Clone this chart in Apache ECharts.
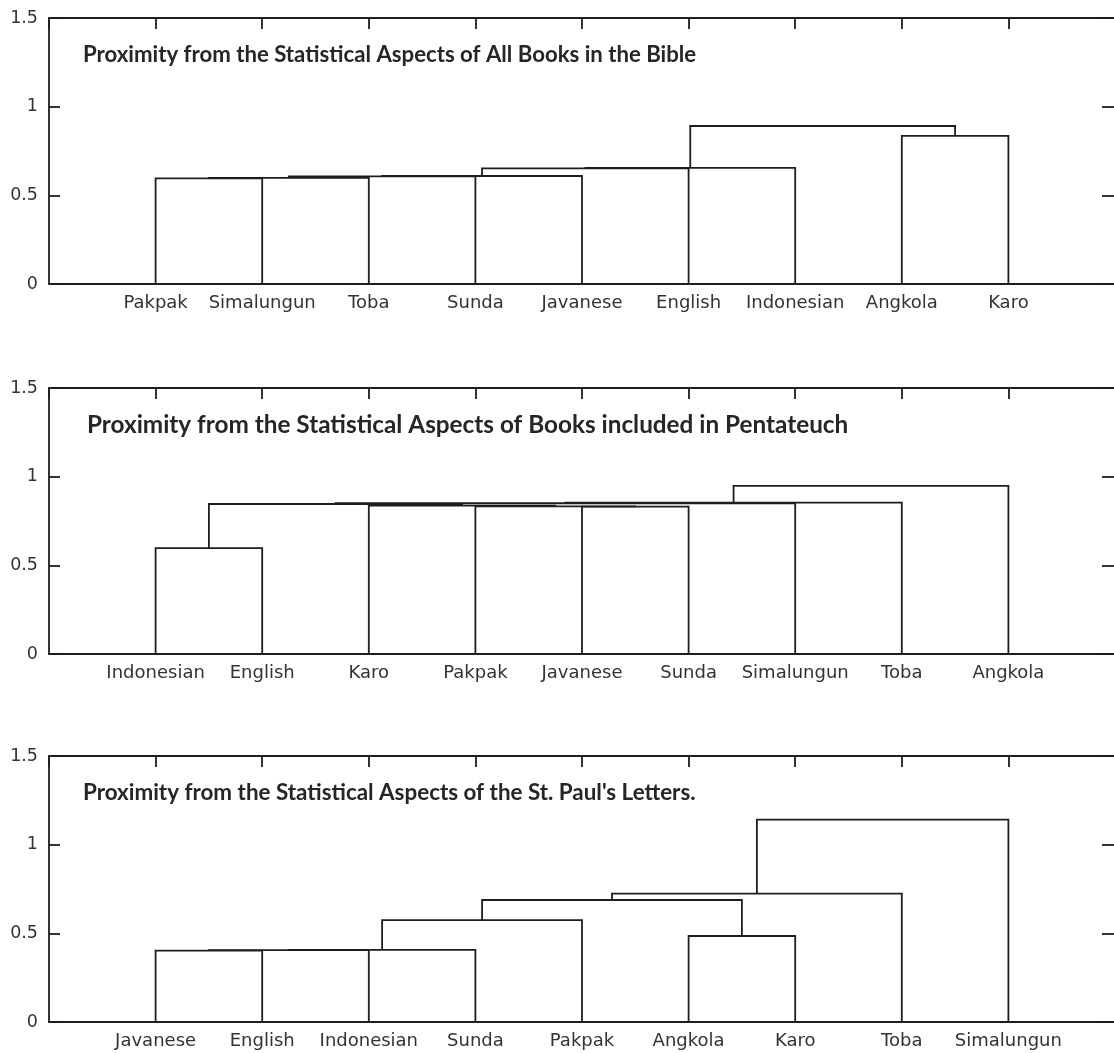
<!DOCTYPE html>
<html>
<head>
<meta charset="utf-8">
<script src="https://cdn.jsdelivr.net/npm/echarts@6/dist/echarts.min.js"></script>
<style>
  html, body { margin: 0; padding: 0; background: #fff; overflow: hidden; }
  #chart { width: 1114px; height: 1053px; }
</style>
</head>
<body>
<div id="chart"></div>
<script>
// ---------- DATA ----------
const titles = [
  "Proximity from the Statistical Aspects of All Books in the Bible",
  "Proximity from the Statistical Aspects of Books included in Pentateuch",
  "Proximity from the Statistical Aspects of the St. Paul's Letters."
];

// leaf order (tick labels) of each dendrogram
const leavesBible = ["Pakpak", "Simalungun", "Toba", "Sunda", "Javanese", "English", "Indonesian", "Angkola", "Karo"];
const leavesPentateuch = ["Indonesian", "English", "Karo", "Pakpak", "Javanese", "Sunda", "Simalungun", "Toba", "Angkola"];
const leavesPaul = ["Javanese", "English", "Indonesian", "Sunda", "Pakpak", "Angkola", "Karo", "Toba", "Simalungun"];

// merges: [child A, child B, linkage height]; "#k" = cluster formed by the k-th merge
const mergesBible = [
  ["Pakpak", "Simalungun", 0.596],
  ["#1", "Toba", 0.599],
  ["#2", "Sunda", 0.607],
  ["#3", "Javanese", 0.609],
  ["#4", "English", 0.652],
  ["#5", "Indonesian", 0.655],
  ["Angkola", "Karo", 0.835],
  ["#6", "#7", 0.891]
];
const mergesPentateuch = [
  ["Indonesian", "English", 0.597],
  ["Javanese", "Sunda", 0.831],
  ["Pakpak", "#2", 0.833],
  ["Karo", "#3", 0.837],
  ["#1", "#4", 0.846],
  ["#5", "Simalungun", 0.850],
  ["#6", "Toba", 0.854],
  ["#7", "Angkola", 0.948]
];
const mergesPaul = [
  ["Javanese", "English", 0.403],
  ["#1", "Indonesian", 0.405],
  ["#2", "Sunda", 0.407],
  ["#3", "Pakpak", 0.575],
  ["Angkola", "Karo", 0.485],
  ["#4", "#5", 0.688],
  ["#6", "Toba", 0.724],
  ["#7", "Simalungun", 1.141]
];

// ---------- LAYOUT ----------
function buildLinks(leaves, merges) {
  const pos = {};
  leaves.forEach((n, i) => { pos[n] = { x: i + 1, h: 0 }; });
  const out = [];
  merges.forEach((m, k) => {
    const a = pos[m[0]], b = pos[m[1]];
    out.push([a.x, a.h, b.x, b.h, m[2]]);
    pos['#' + (k + 1)] = { x: (a.x + b.x) / 2, h: m[2] };
  });
  return out;
}

const panels = [
  { leaves: leavesBible, merges: mergesBible, top: 18, titleSize: 22.2, titleLeft: 83 },
  { leaves: leavesPentateuch, merges: mergesPentateuch, top: 388, titleSize: 24.3, titleLeft: 87 },
  { leaves: leavesPaul, merges: mergesPaul, top: 756, titleSize: 22.4, titleLeft: 83 }
];

const INK = '#1e1e1e';
const LBL = '#333333';
const PH = 266;
const LW = 1.8;

const grid = [], xAxis = [], yAxis = [], series = [], title = [];
panels.forEach((p, i) => {
  grid.push({ left: 49, width: 1066, top: p.top, height: PH, outerBoundsMode: 'none', containLabel: false });
  const lv = p.leaves;
  xAxis.push({
    type: 'value', gridIndex: i, min: 0, max: 10, interval: 1, position: 'bottom',
    axisLine: { show: true, onZero: false, lineStyle: { color: INK, width: LW } },
    axisTick: { show: false },
    splitLine: { show: false },
    axisLabel: {
      show: true, margin: 10, color: LBL, fontFamily: 'DejaVu Sans', fontSize: 18,
      formatter: v => (v >= 1 && v <= lv.length && Number.isInteger(v)) ? lv[v - 1] : ''
    }
  });
  xAxis.push({
    type: 'value', gridIndex: i, min: 0, max: 10, interval: 1, position: 'top',
    axisLine: { show: true, onZero: false, lineStyle: { color: INK, width: LW } },
    axisTick: { show: true, inside: true, length: 11, lineStyle: { color: INK, width: LW } },
    splitLine: { show: false },
    axisLabel: { show: false }
  });
  yAxis.push({
    type: 'value', gridIndex: i, min: 0, max: 1.5, interval: 0.5, position: 'left',
    axisLine: { show: true, onZero: false, lineStyle: { color: INK, width: LW } },
    axisTick: { show: true, inside: true, length: 11, lineStyle: { color: INK, width: LW } },
    splitLine: { show: false },
    axisLabel: { show: true, margin: 11, color: LBL, fontFamily: 'DejaVu Sans', fontSize: 17.5 }
  });
  yAxis.push({
    type: 'value', gridIndex: i, min: 0, max: 1.5, interval: 0.5, position: 'right',
    axisLine: { show: true, onZero: false, lineStyle: { color: INK, width: LW } },
    axisTick: { show: true, inside: true, length: 13, lineStyle: { color: INK, width: LW } },
    splitLine: { show: false },
    axisLabel: { show: false }
  });
  series.push({
    type: 'custom',
    xAxisIndex: i * 2, yAxisIndex: i * 2,
    data: buildLinks(p.leaves, p.merges),
    encode: { x: [0, 2], y: [1, 3, 4] },
    silent: true,
    clip: false,
    renderItem: (params, api) => {
      const xl = api.value(0), hl = api.value(1), xr = api.value(2), hr = api.value(3), h = api.value(4);
      const pts = [api.coord([xl, hl]), api.coord([xl, h]), api.coord([xr, h]), api.coord([xr, hr])];
      return {
        type: 'polyline',
        shape: { points: pts },
        style: { stroke: INK, lineWidth: LW, fill: null }
      };
    }
  });
  title.push({
    text: titles[i],
    left: p.titleLeft,
    top: p.top + 37 - p.titleSize * 0.6,
    padding: 0,
    textStyle: { fontFamily: 'Lato', fontWeight: 'bold', fontSize: p.titleSize, color: '#262626', lineHeight: p.titleSize * 1.2 }
  });
});

const chart = echarts.init(document.getElementById('chart'), null, { renderer: 'canvas' });
chart.setOption({
  backgroundColor: '#ffffff',
  animation: false,
  title, grid, xAxis, yAxis, series
});
</script>
</body>
</html>
